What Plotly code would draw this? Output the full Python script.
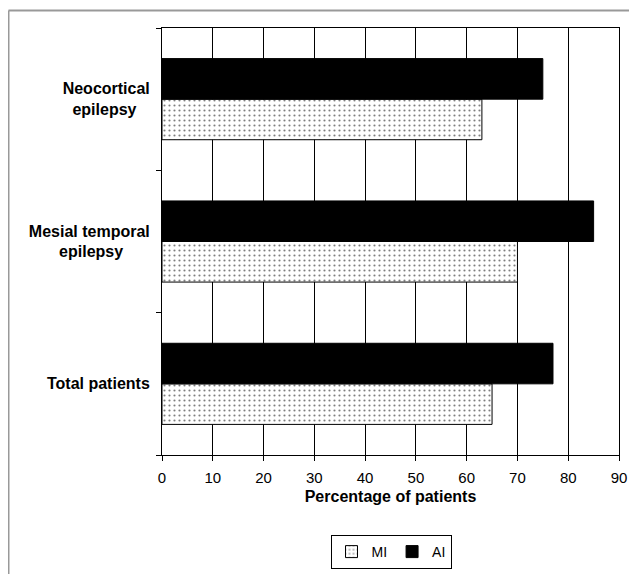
import plotly.graph_objects as go

categories = ["Total patients", "Mesial temporal<br>epilepsy", "Neocortical<br>epilepsy"]
tick_labels = ["Total patients",
               "Mesial temporal<br>epilepsy" + "\u00a0" * 6,
               "Neocortical<br>epilepsy" + "\u00a0" * 3]
mi_values = [65, 70, 63]
ai_values = [77, 85, 75]
x_ticks = [0, 10, 20, 30, 40, 50, 60, 70, 80, 90]

fig = go.Figure()
fig.add_trace(go.Bar(
    y=categories, x=mi_values, orientation="h", name="MI",
    marker=dict(color="white", line=dict(color="black", width=1),
                pattern=dict(shape=".", size=5, solidity=0.15, fgcolor="black", bgcolor="white")),
))
fig.add_trace(go.Bar(
    y=categories, x=ai_values, orientation="h", name="AI",
    marker=dict(color="black", line=dict(color="black", width=1)),
))

# page body adds an 8px offset; work in reference pixels and convert
OFF = 8
W, H = 637 - OFF, 574 - OFF
PL, PR, PT, PB = 162, 619, 28, 455  # plot area in reference pixels
L, R, T, B = PL - OFF, W - (PR - OFF), PT - OFF, H - (PB - OFF)
pw, ph = W - L - R, H - T - B

def px_x(p):
    return (p - OFF - L) / pw

def px_y(p):
    return (H - B - (p - OFF)) / ph

fig.update_layout(
    width=W, height=H,
    margin=dict(l=L, r=R, t=T, b=B, autoexpand=False),
    paper_bgcolor="white", plot_bgcolor="white",
    barmode="group", bargap=0.43, bargroupgap=0,
    font=dict(family="Arial, Liberation Sans, sans-serif", size=15, color="black"),
    showlegend=True,
    legend=dict(orientation="h", xref="container", x=(391 - OFF) / W, xanchor="center",
                yref="container", y=1 - (552 - OFF) / H, yanchor="middle",
                bordercolor="black", borderwidth=1, traceorder="normal",
                font=dict(size=14), itemwidth=30, tracegroupgap=0),
    xaxis=dict(range=[0, 90], tickvals=x_ticks, ticks="outside", ticklen=5, tickcolor="black",
               showgrid=True, gridcolor="black", gridwidth=1,
               showline=True, linecolor="black", linewidth=1, mirror=True,
               zeroline=False, ticklabelstandoff=4, automargin=False,
               title=dict(text="<b>Percentage of patients</b>", font=dict(size=16), standoff=5),
               tickfont=dict(size=15)),
    yaxis=dict(ticks="outside", tickson="boundaries", ticklen=5, tickcolor="black",
               showgrid=False, showline=True, linecolor="black", linewidth=1, mirror=True,
               ticklabelstandoff=8, automargin=False,
               tickvals=categories, ticktext=["<b>" + t + "</b>" for t in tick_labels],
               tickfont=dict(size=16)),
    shapes=[
        dict(type="line", xref="paper", yref="paper", x0=px_x(8.5), x1=px_x(660), y0=px_y(10.5), y1=px_y(10.5),
             line=dict(color="#999999", width=2)),
        dict(type="line", xref="paper", yref="paper", x0=px_x(8.5), x1=px_x(8.5), y0=px_y(10.5), y1=px_y(600),
             line=dict(color="#999999", width=2)),
    ],
)

fig.write_html("out.html")
